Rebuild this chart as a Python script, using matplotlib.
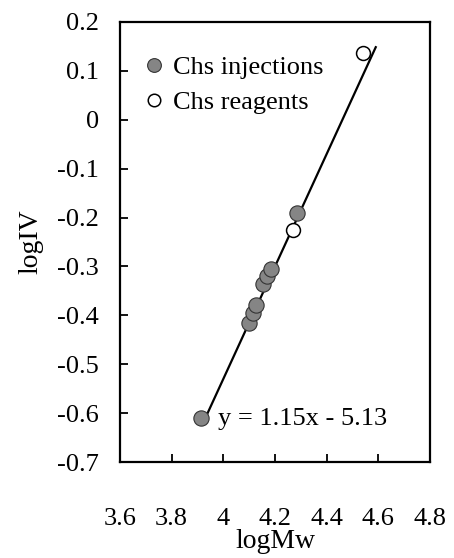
import numpy as np
import matplotlib.pyplot as plt

plt.rcParams['font.family'] = ['Liberation Serif', 'DejaVu Serif']

# Chs injections (filled) and Chs reagents (open)
inj_logMw = [3.912, 4.100, 4.115, 4.125, 4.155, 4.170, 4.185, 4.284]
inj_logIV = [-0.609, -0.415, -0.395, -0.378, -0.335, -0.320, -0.305, -0.190]
rea_logMw = [4.270, 4.540]
rea_logIV = [-0.225, 0.136]

# fitted line y = 1.15x - 5.13
slope = 1.15
intercept = -5.13
fit_x = np.array([3.93, 4.59])

x_ticks = [3.6, 3.8, 4.0, 4.2, 4.4, 4.6, 4.8]
x_labels = ['3.6', '3.8', '4', '4.2', '4.4', '4.6', '4.8']
y_ticks = [0.2, 0.1, 0, -0.1, -0.2, -0.3, -0.4, -0.5, -0.6, -0.7]
y_labels = ['0.2', '0.1', '0', '-0.1', '-0.2', '-0.3', '-0.4', '-0.5', '-0.6', '-0.7']

fig = plt.figure(figsize=(4.54, 5.58), dpi=100)
ax = fig.add_axes([120/454, 1-462/558, 310/454, 440/558])

ax.plot(fit_x, slope*fit_x + intercept, color='black', lw=1.6, zorder=1)
ax.plot(inj_logMw, inj_logIV, 'o', ms=11, mfc='#858585', mec='#333333', mew=0.8,
        label='Chs injections', zorder=2)
ax.plot(rea_logMw, rea_logIV, 'o', ms=10, mfc='white', mec='black', mew=1.1,
        label='Chs reagents', zorder=3)

ax.set_xlim(3.6, 4.8)
ax.set_ylim(-0.7, 0.2)
ax.set_xticks(x_ticks)
ax.set_xticklabels(x_labels)
ax.set_yticks(y_ticks)
ax.set_yticklabels(y_labels)
ax.tick_params(direction='in', length=6, width=1.3, labelsize=19)
ax.tick_params(axis='x', pad=33)
ax.tick_params(axis='y', pad=15)
for s in ax.spines.values():
    s.set_linewidth(1.6)

ax.set_xlabel('logMw', fontsize=20)
ax.xaxis.set_label_coords(0.5, -0.152)
ax.set_ylabel('logIV', fontsize=20, labelpad=10)

ax.text(3.978, -0.612, 'y = 1.15x - 5.13', fontsize=19, va='center', ha='left')

leg = ax.legend(loc='upper left', bbox_to_anchor=(0.072, 0.936), frameon=False,
                fontsize=19, handlelength=0.5, handletextpad=0.45,
                labelspacing=0.45, borderaxespad=0.0, borderpad=0.2, markerscale=0.9)

fig.savefig('out.png', dpi=100)
